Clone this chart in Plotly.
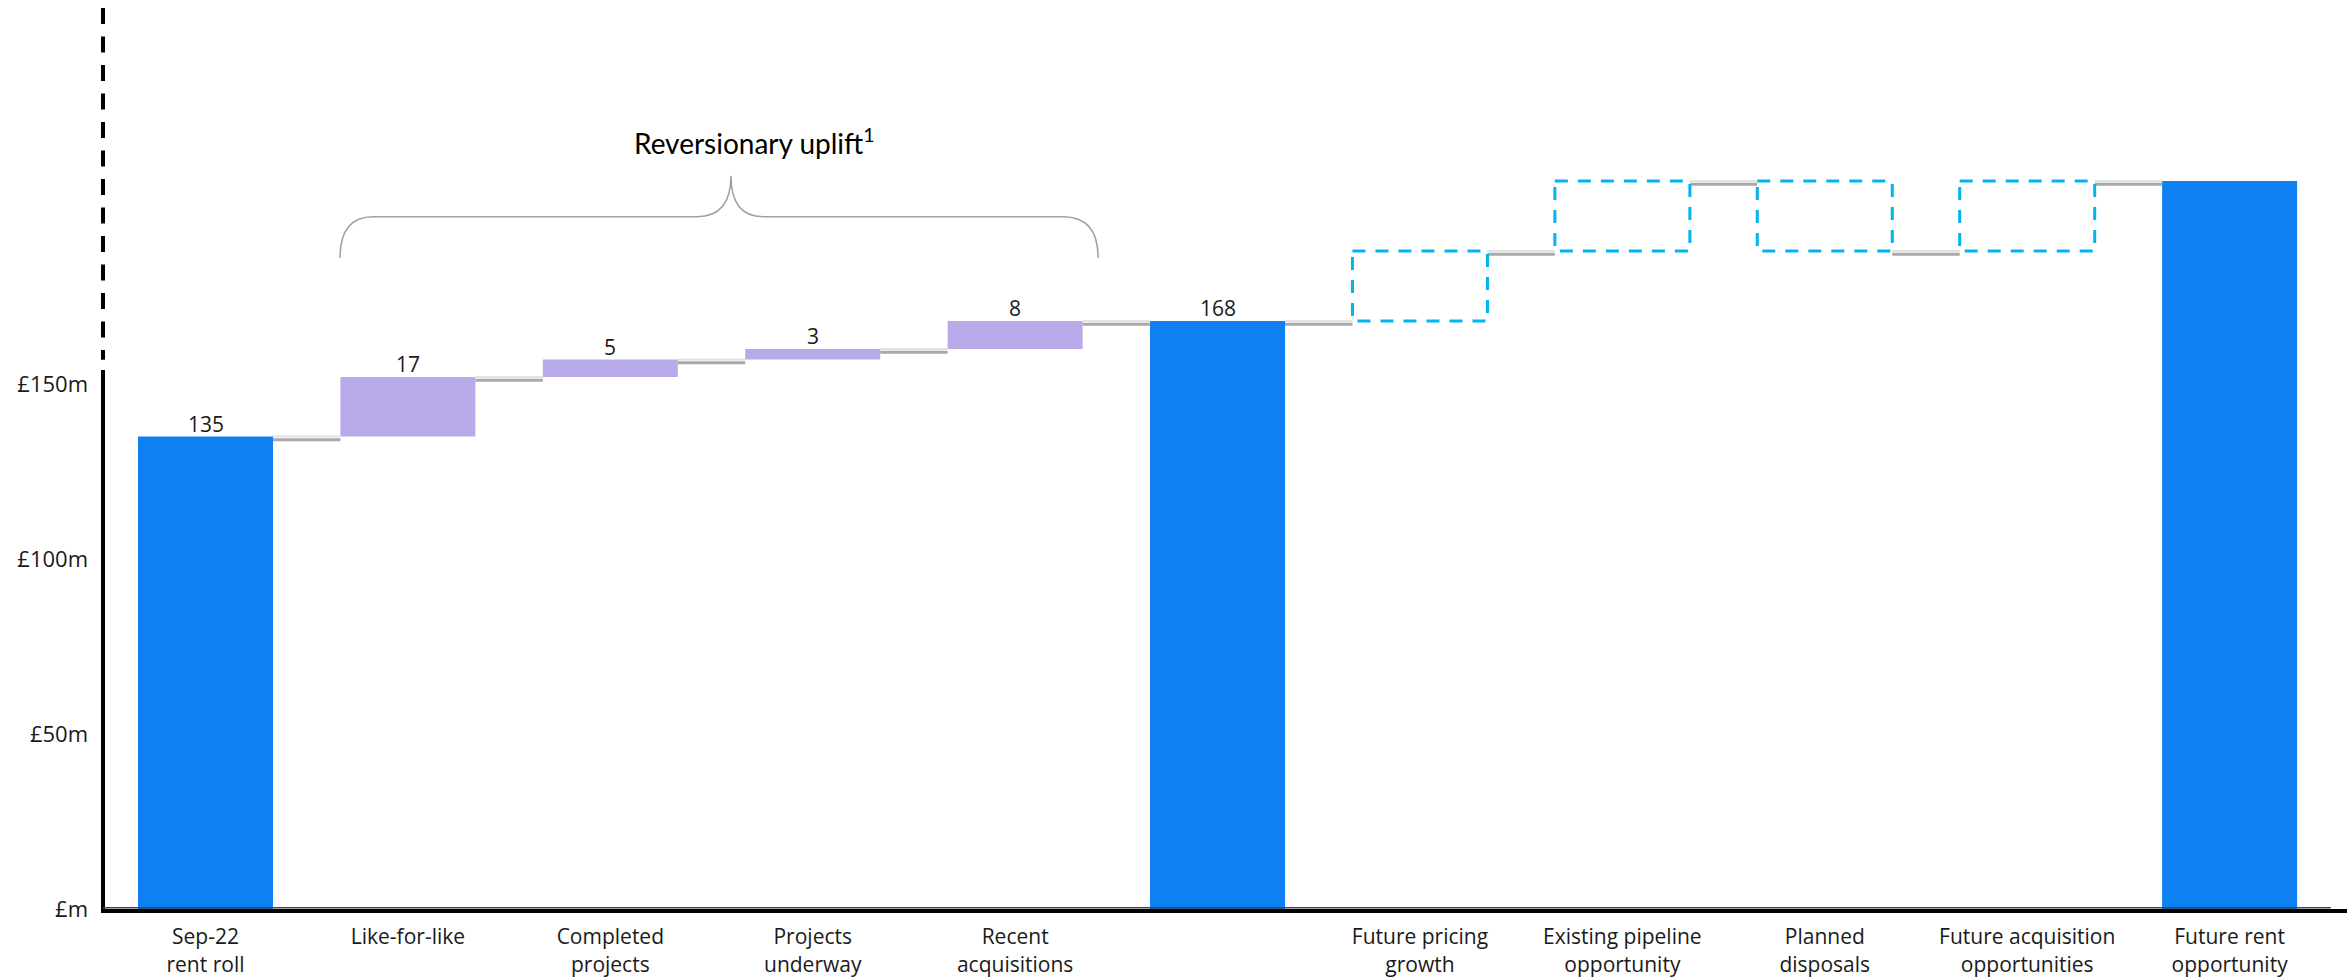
import plotly.graph_objects as go

# ---------------- data ----------------
categories = [
    "Sep-22<br>rent roll", "Like-for-like", "Completed<br>projects",
    "Projects<br>underway", "Recent<br>acquisitions", " ",
    "Future pricing<br>growth", "Existing pipeline<br>opportunity",
    "Planned<br>disposals", "Future acquisition<br>opportunities",
    "Future rent<br>opportunity",
]
start_total = 135            # Sep-22 rent roll (£m)
uplift_steps = [17, 5, 3, 8]  # reversionary uplift components
current_total = 168
future_steps = [20, 20, -20, 20]  # illustrative future movements (dashed)
future_total = 208
value_labels = ["135", "17", "5", "3", "8", "168", "", "", "", "", ""]
y_tickvals = [0, 50, 100, 150]
y_ticktext = ["£m", "£50m", "£100m", "£150m"]
bracket_label = "Reversionary uplift<sup>1</sup>"

# ---------------- derived ----------------
BLUE = "#0e80f2"
PURPLE = "#b8aae8"
CYAN = "#00b4f0"
BW = 0.667
H = BW / 2
FONT = "Open Sans"
TXT = "#1a1a1a"

n = len(categories)
xs = list(range(n))
bases, tops, ends = [], [], []
run = start_total
bases.append(0); tops.append(run); ends.append(run)
for s in uplift_steps:
    lo, hi = sorted([run, run + s]); bases.append(lo); tops.append(hi); run += s; ends.append(run)
bases.append(0); tops.append(current_total); ends.append(current_total)
run = current_total
for s in future_steps:
    lo, hi = sorted([run, run + s]); bases.append(lo); tops.append(hi); run += s; ends.append(run)
bases.append(0); tops.append(future_total); ends.append(future_total)

total_idx = [0, 5, 10]
uplift_idx = list(range(1, 1 + len(uplift_steps)))
future_idx = list(range(6, 6 + len(future_steps)))

YMAX = 257.43
XR = [-0.5064, 10.58]

fig = go.Figure()

# connectors (light highlight + darker line)
cx, cy_l, cy_d = [], [], []
for i in range(n - 1):
    cx += [i + H, i + 1 - H, None]
    cy_l += [ends[i], ends[i], None]
    cy_d += [ends[i] - 0.9, ends[i] - 0.9, None]
fig.add_trace(go.Scatter(x=cx, y=cy_l, mode="lines", line=dict(color="#e2e2e2", width=2),
                         hoverinfo="skip"))
fig.add_trace(go.Scatter(x=cx, y=cy_d, mode="lines", line=dict(color="#a8a8a8", width=3),
                         hoverinfo="skip"))

# total bars
fig.add_trace(go.Bar(x=[xs[i] for i in total_idx], y=[tops[i] - bases[i] for i in total_idx],
                     base=[bases[i] for i in total_idx], width=BW,
                     marker=dict(color=BLUE, line=dict(width=0))))
# uplift bars
fig.add_trace(go.Bar(x=[xs[i] for i in uplift_idx], y=[tops[i] - bases[i] for i in uplift_idx],
                     base=[bases[i] for i in uplift_idx], width=BW,
                     marker=dict(color=PURPLE, line=dict(width=0))))
# future dashed boxes
bx, by = [], []
for i in future_idx:
    bx += [i - H, i + H, i + H, i - H, i - H, None]
    by += [tops[i], tops[i], bases[i], bases[i], tops[i], None]
fig.add_trace(go.Scatter(x=bx, y=by, mode="lines",
                         line=dict(color=CYAN, width=3, dash="13px,10px"), hoverinfo="skip"))

# value labels
for i, lab in enumerate(value_labels):
    if lab:
        fig.add_annotation(x=xs[i], y=tops[i], text=lab, showarrow=False, yanchor="bottom",
                           yshift=-3, font=dict(family=FONT, size=21, color=TXT))

# bracket + label
brace = ("M 0.6645,186 Q 0.6645,197.8 0.8276,197.8 L 2.428,197.8 "
         "Q 2.596,197.8 2.596,209.5 Q 2.596,197.8 2.754,197.8 L 4.237,197.8 "
         "Q 4.41,197.8 4.41,186")
fig.add_shape(type="path", path=brace, xref="x", yref="y",
              line=dict(color="#a0a0a0", width=1.5))
fig.add_annotation(x=2.71, y=219.3, text=bracket_label, showarrow=False, yanchor="middle",
                   font=dict(family="Lato", size=28, color="#000000"))

# y axis: solid lower part, dashed upper part (axis break)
fig.add_shape(type="line", xref="paper", yref="paper", x0=0, x1=0,
              y0=-4 / 901, y1=154 / YMAX, line=dict(color="black", width=4))
fig.add_shape(type="line", xref="paper", yref="paper", x0=0, x1=0,
              y0=1.0, y1=156.9 / YMAX, line=dict(color="black", width=4, dash="16px,12.5px"))
# thin baseline
fig.add_shape(type="line", xref="x", yref="y", x0=XR[0], x1=10.5, y0=0.35, y1=0.35,
              line=dict(color="#444444", width=1.5))

fig.update_layout(
    width=2351, height=980,
    margin=dict(l=103, r=4, t=8, b=71),
    paper_bgcolor="white", plot_bgcolor="white",
    showlegend=False, barmode="overlay",
    xaxis=dict(range=XR, tickvals=xs, ticktext=categories, showgrid=False, zeroline=False,
               showline=True, linewidth=4, linecolor="black", ticks="", automargin=False,
               tickfont=dict(family=FONT, size=21, color=TXT), ticklabelstandoff=6),
    yaxis=dict(range=[0, YMAX], tickvals=y_tickvals, ticktext=y_ticktext, showgrid=False,
               zeroline=False, showline=False, ticks="", automargin=False,
               tickfont=dict(family=FONT, size=22, color=TXT), ticklabelstandoff=14),
)

fig.write_html("out.html")
